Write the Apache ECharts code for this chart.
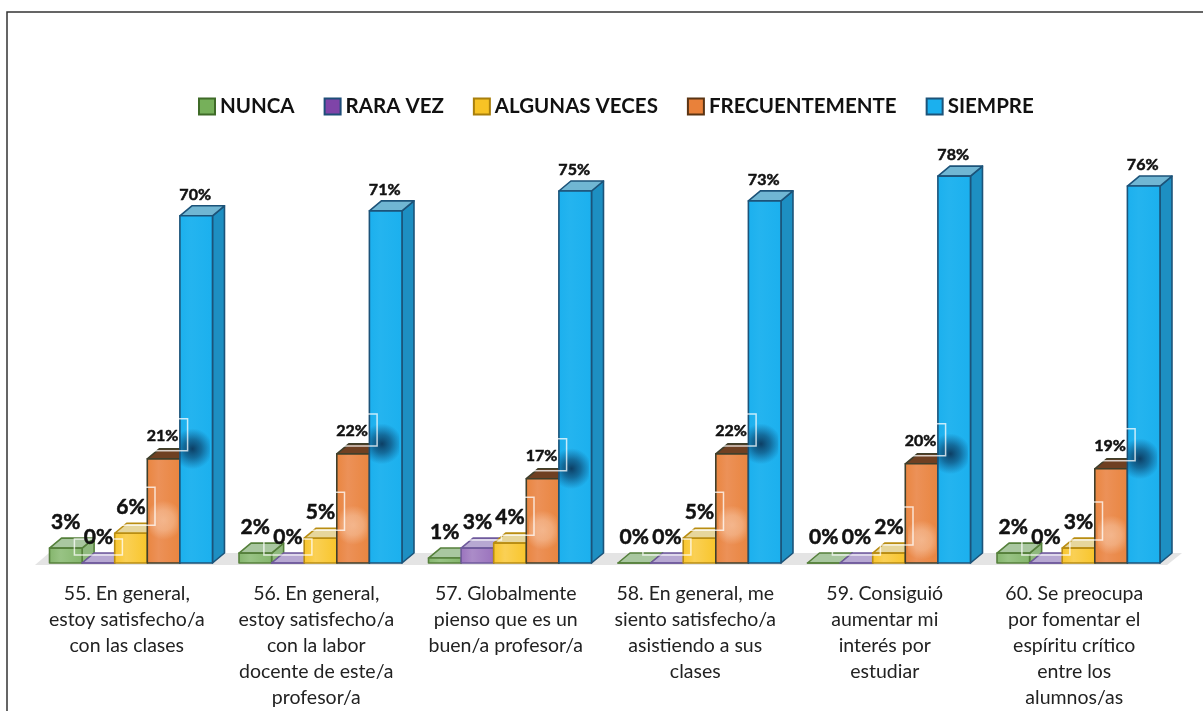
<!DOCTYPE html>
<html>
<head>
<meta charset="utf-8">
<title>Satisfacción</title>
<style>
    html, body { margin: 0; padding: 0; background: #fff; }
    #chart { width: 1203px; height: 711px; }
</style>
<script src="https://cdn.jsdelivr.net/npm/echarts@6/dist/echarts.min.js"></script>
</head>
<body>
<div id="chart"></div>
<script>
    var categories = [
        '55. En general,\nestoy satisfecho/a\ncon las clases',
        '56. En general,\nestoy satisfecho/a\ncon la labor\ndocente de este/a\nprofesor/a',
        '57. Globalmente\npienso que es un\nbuen/a profesor/a',
        '58. En general, me\nsiento satisfecho/a\nasistiendo a sus\nclases',
        '59. Consiguió\naumentar mi\ninterés por\nestudiar',
        '60. Se preocupa\npor fomentar el\nespíritu crítico\nentre los\nalumnos/as'
    ];
    var seriesNames = ['NUNCA', 'RARA VEZ', 'ALGUNAS VECES', 'FRECUENTEMENTE', 'SIEMPRE'];
    var nunca = [3, 2, 1, 0, 0, 2];
    var raraVez = [0, 0, 3, 0, 0, 0];
    var algunasVeces = [6, 5, 4, 5, 2, 3];
    var frecuentemente = [21, 22, 17, 22, 20, 19];
    var siempre = [70, 71, 75, 73, 78, 76];
    var seriesValues = [nunca, raraVez, algunasVeces, frecuentemente, siempre];

    // colores de cada cara de la barra
    var faceColors = [
        {front: '#84b56c', light: '#98c384', top: '#a9c7a0', side: '#8fb97e', line: '#55803b', legend: '#76b05a'},
        {front: '#9a72bd', light: '#ab8cc8', top: '#b7a8d2', side: '#8c68ad', line: '#6f5a9c', legend: '#7f44a8'},
        {front: '#f8c52a', light: '#fad055', top: '#e6d69c', side: '#e8b41c', line: '#b98d12', legend: '#f7c325'},
        {front: '#e9853f', light: '#ec9158', top: '#6f4022', side: '#c96f30', line: '#3f3f2b', legend: '#e9813a'},
        {front: '#1bb0ee', light: '#24b4ef', top: '#70b6d3', side: '#1d8fc2', line: '#1c5379', legend: '#1bb0ee'}
    ];
    var legendBorders = ['#3f6b28', '#1f4e79', '#a87f0c', '#5a3413', '#1c5379'];

    var DEPTH_X = 12, DEPTH_Y = 10;

    function renderBar(i, params, api) {
        var colors = faceColors[i];
        var value = api.value(1);
        var point = api.coord([api.value(0), value]);
        var base = api.coord([api.value(0), 0]);
        var band = api.size([1, 0])[0];
        var w = band * 0.172;
        var cx = point[0] + 4.25 + (i - 2) * w;
        var x0 = cx - w / 2, x1 = cx + w / 2;
        var top = point[1], bottom = base[1];
        var order = 10 + i;
        var stroke = {stroke: colors.line, lineWidth: 1.6, lineJoin: 'round'};

        var children = [
            {
                type: 'polygon', z2: order,
                shape: {points: [[x1, top], [x1 + DEPTH_X, top - DEPTH_Y], [x1 + DEPTH_X, bottom - DEPTH_Y], [x1, bottom]]},
                style: Object.assign({fill: colors.side}, stroke)
            },
            {
                type: 'polygon', z2: order,
                shape: {points: [[x0, top], [x0 + DEPTH_X, top - DEPTH_Y], [x1 + DEPTH_X, top - DEPTH_Y], [x1, top]]},
                style: Object.assign({fill: colors.top}, stroke)
            },
            {
                type: 'rect', z2: order,
                shape: {x: x0, y: top, width: w, height: bottom - top},
                style: Object.assign({
                    fill: new echarts.graphic.LinearGradient(0, 0, 1, 0, [
                        {offset: 0, color: colors.front},
                        {offset: 0.35, color: colors.light},
                        {offset: 1, color: colors.front}
                    ])
                }, stroke)
            }
        ];

        // reflejo claro sobre la barra naranja, y sombra oscura sobre la azul
        if (i === 2) {
            children.push({
                type: 'rect', z2: 90,
                shape: {x: cx + 19, y: top - 36, width: 28, height: 46},
                style: {
                    fill: new echarts.graphic.RadialGradient(0.5, 0.5, 0.7, [
                        {offset: 0, color: 'rgba(255,236,220,0.42)'},
                        {offset: 0.5, color: 'rgba(255,236,220,0.32)'},
                        {offset: 1, color: 'rgba(255,236,220,0)'}
                    ])
                }
            });
        }
        if (i === 3) {
            children.push({
                type: 'rect', z2: 90,
                shape: {x: x1, y: top - 32, width: 30, height: 44},
                style: {
                    fill: new echarts.graphic.RadialGradient(0.42, 0.5, 0.68, [
                        {offset: 0, color: 'rgba(10,50,85,0.9)'},
                        {offset: 0.45, color: 'rgba(10,60,100,0.6)'},
                        {offset: 1, color: 'rgba(10,70,120,0)'}
                    ])
                }
            });
        }

        // recuadro blanco de la etiqueta
        if (i >= 1 && i <= 3) {
            var boxH = [0, 16, 38, 32][i];
            children.push({
                type: 'rect', z2: 100,
                shape: {x: cx - 24, y: top - 8 - boxH, width: 48, height: boxH},
                style: {fill: 'none', stroke: 'rgba(255,255,255,0.75)', lineWidth: 1.5}
            });
        }

        var small = i >= 3;
        children.push({
            type: 'text', z2: 110,
            x: cx - (small ? 1 : 0), y: top - (i === 4 ? 21 : small ? 23 : 26),
            style: {
                text: value + '%',
                fill: '#111',
                stroke: '#111',
                lineWidth: 0.5,
                font: 'bold ' + (small ? 16 : 21) + 'px Lato',
                align: 'center',
                verticalAlign: 'middle'
            }
        });

        return {type: 'group', children: children};
    }

    function renderFloor(params) {
        var c = params.coordSys;
        var y = c.y + c.height;
        return {
            type: 'polygon', z2: 1, silent: true,
            shape: {points: [[c.x + 3, y + 2], [c.x + 17, y - 10], [c.x + c.width + 13, y - 10], [c.x + c.width - 2, y + 2]]},
            style: {fill: '#e4e4e4'}
        };
    }

    var series = [{
        type: 'custom',
        name: 'piso',
        silent: true,
        renderItem: renderFloor,
        data: [[0, 0]],
        encode: {x: 0, y: 1}
    }];
    seriesNames.forEach(function (name, i) {
        series.push({
            type: 'custom',
            name: name,
            renderItem: renderBar.bind(null, i),
            itemStyle: {color: faceColors[i].legend},
            encode: {x: 0, y: 1},
            data: seriesValues[i].map(function (v, k) { return [k, v]; })
        });
    });

    var chart = echarts.init(document.getElementById('chart'), null, {renderer: 'canvas'});
    chart.setOption({
        animation: false,
        backgroundColor: '#fff',
        legend: {
            left: 193,
            top: 91,
            itemWidth: 16,
            itemHeight: 16,
            itemGap: 29,
            textStyle: {fontFamily: 'Lato', fontWeight: 'bold', fontSize: 20.5, color: '#111'},
            data: seriesNames.map(function (name, i) {
                return {
                    name: name,
                    icon: 'rect',
                    itemStyle: {color: faceColors[i].legend, borderColor: legendBorders[i], borderWidth: 2}
                };
            })
        },
        grid: {left: 32, width: 1137, top: 67, bottom: 148},
        xAxis: {
            type: 'category',
            data: categories,
            axisLine: {show: false},
            axisTick: {show: false},
            axisLabel: {
                interval: 0,
                margin: 18,
                color: '#222',
                fontFamily: 'Lato',
                fontSize: 19.5,
                lineHeight: 26,
                align: 'center'
            }
        },
        yAxis: {type: 'value', min: 0, max: 100, show: false},
        graphic: [{
            type: 'polyline',
            silent: true,
            shape: {points: [[7, 711], [7, 12], [1203, 12]]},
            style: {fill: 'none', stroke: '#333', lineWidth: 1.5}
        }],
        series: series
    });
</script>
</body>
</html>
